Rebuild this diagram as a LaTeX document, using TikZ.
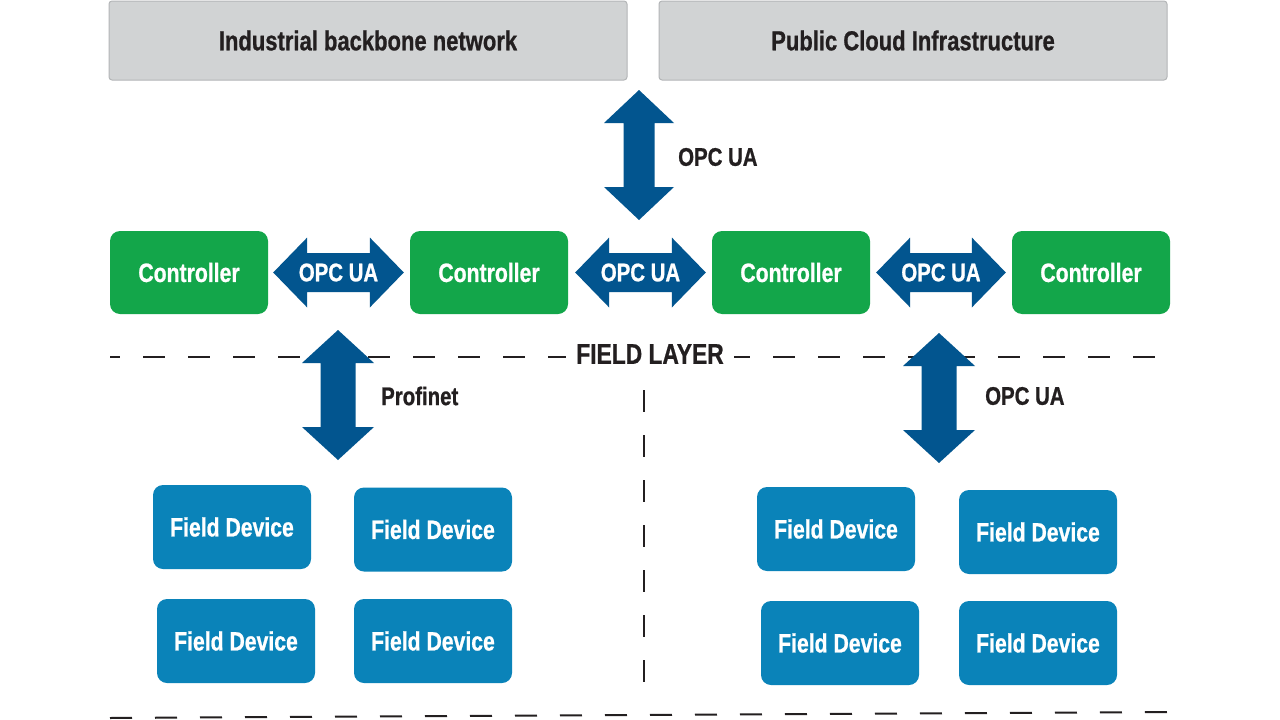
\documentclass[tikz,border=0pt]{standalone}
\usepackage{fontspec}
\setmainfont{Liberation Sans}[FakeStretch=0.8, BoldFeatures={FakeBold=0.8}]
\usetikzlibrary{calc}
\definecolor{boxgray}{HTML}{D1D3D4}
\definecolor{boxedge}{HTML}{B3B5B7}
\definecolor{ctrlgreen}{HTML}{13A64A}
\definecolor{devblue}{HTML}{0A83B9}
\definecolor{arrowblue}{HTML}{02558F}
\definecolor{inkblack}{HTML}{231F20}
\newcommand\harrowfill[2]{%
  \fill[arrowblue] (#1) -- ($(#1)+(34,-35)$) -- ($(#1)+(34,-19.5)$) -- ($(#2)+(-34,-19.5)$)
    -- ($(#2)+(-34,-35)$) -- (#2) -- ($(#2)+(-34,35)$) -- ($(#2)+(-34,19.5)$)
    -- ($(#1)+(34,19.5)$) -- ($(#1)+(34,35)$) -- cycle;}
\newcommand\varrowfill[4]{% top, bottom, head half width, shaft half width
  \fill[arrowblue] (#1) -- ($(#1)+(#3,33)$) -- ($(#1)+(#4,33)$) -- ($(#2)+(#4,-33)$)
    -- ($(#2)+(#3,-33)$) -- (#2) -- ($(#2)+(-#3,-33)$) -- ($(#2)+(-#4,-33)$)
    -- ($(#1)+(-#4,33)$) -- ($(#1)+(-#3,33)$) -- cycle;}
\begin{document}
\begin{tikzpicture}[x=1pt,y=-1pt,
  txt/.style={font=\bfseries\fontsize{26.5}{28}\selectfont, inner sep=0pt},
  graybox/.style={txt, draw=boxedge, line width=1pt, fill=boxgray, rounded corners=3pt,
    minimum height=79pt, text=inkblack, font=\bfseries\fontsize{27.5}{29}\selectfont},
  ctrl/.style={txt, fill=ctrlgreen, rounded corners=10pt, minimum width=158pt,
    minimum height=83pt, text=white},
  dev/.style={txt, fill=devblue, rounded corners=10pt, minimum width=158pt,
    minimum height=84pt, text=white},
  arrowlabel/.style={txt, text=white, font=\bfseries\fontsize{25.5}{27}\selectfont},
  sidelabel/.style={txt, text=inkblack, anchor=west, font=\bfseries\fontsize{25.5}{27}\selectfont},
  dashline/.style={draw=inkblack, line width=2pt, dash pattern=on 22pt off 23pt}
]
\useasboundingbox[fill=white] (0,0) rectangle (1280,720);

% top boxes
\node[graybox, minimum width=518pt] (backbone) at (368,40.5) {Industrial backbone network};
\node[graybox, minimum width=508pt] (cloud) at (913,40.5) {Public Cloud Infrastructure};

% dashed lines
\coordinate (fl1) at (110,357);
\coordinate (fl2) at (1172,357);
\draw[dashline, dash phase=12pt] (fl1) -- (fl2);
\node[txt, fill=white, inner xsep=10pt, inner ysep=4pt, text=inkblack,
  font=\bfseries\fontsize{28.5}{30}\selectfont] (field) at (650,354) {FIELD LAYER};
\coordinate (vd1) at (644,390);
\coordinate (vd2) at (644,690);
\draw[dashline] (vd1) -- (vd2);
\coordinate (bl1) at (110,718);
\coordinate (bl2) at (1168,712);
\draw[dashline] (bl1) -- (bl2);

% controllers
\node[ctrl] (c1) at (189,272.5) {Controller};
\node[ctrl] (c2) at (489,272.5) {Controller};
\node[ctrl] (c3) at (791,272.5) {Controller};
\node[ctrl] (c4) at (1091,272.5) {Controller};

% horizontal arrows
\coordinate (h1a) at ($(c1.east)+(5,0)$);
\coordinate (h1b) at ($(c2.west)+(-6,0)$);
\coordinate (h2a) at ($(c2.east)+(7,0)$);
\coordinate (h2b) at ($(c3.west)+(-6,0)$);
\coordinate (h3a) at ($(c3.east)+(6,0)$);
\coordinate (h3b) at ($(c4.west)+(-6,0)$);
\harrowfill{h1a}{h1b}
\harrowfill{h2a}{h2b}
\harrowfill{h3a}{h3b}
\node[arrowlabel] (l1) at ($(h1a)!0.5!(h1b)$) {OPC UA};
\node[arrowlabel] (l2) at ($(h2a)!0.5!(h2b)$) {OPC UA};
\node[arrowlabel] (l3) at ($(h3a)!0.5!(h3b)$) {OPC UA};

% vertical arrows
\coordinate (v0a) at (639,90);
\coordinate (v0b) at (639,220);
\varrowfill{v0a}{v0b}{35}{15.5}
\node[sidelabel] (lv0) at (678,157) {OPC UA};

\coordinate (v1a) at (338,330);
\coordinate (v1b) at (338,460);
\varrowfill{v1a}{v1b}{36}{17.5}
\node[sidelabel] (lv1) at (381,396) {Profinet};

\coordinate (v2a) at (939,333);
\coordinate (v2b) at (939,463);
\varrowfill{v2a}{v2b}{36}{17.5}
\node[sidelabel] (lv2) at (985,396) {OPC UA};

% field devices
\node[dev] (d1) at (232,527) {Field Device};
\node[dev] (d2) at (433,529.5) {Field Device};
\node[dev] (d3) at (236,641) {Field Device};
\node[dev] (d4) at (433,641) {Field Device};
\node[dev] (d5) at (836,529) {Field Device};
\node[dev] (d6) at (1038,532) {Field Device};
\node[dev] (d7) at (840,643) {Field Device};
\node[dev] (d8) at (1038,643) {Field Device};
\end{tikzpicture}
\end{document}
